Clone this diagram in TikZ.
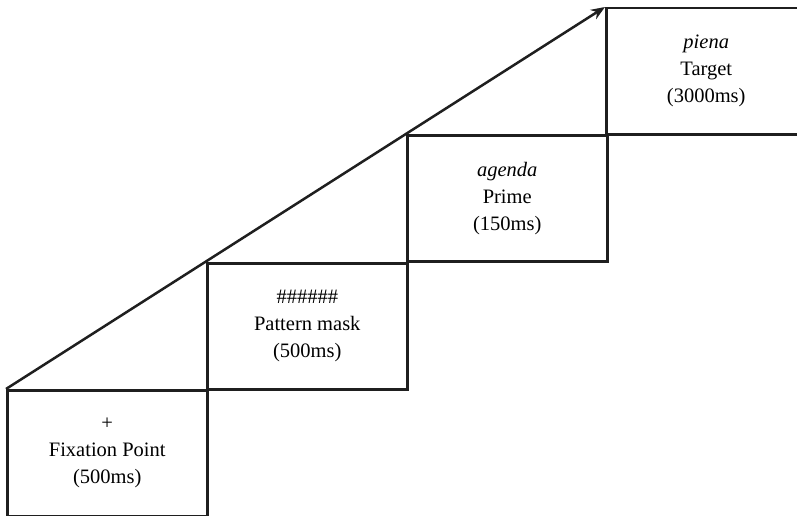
\documentclass[tikz,border=0pt]{standalone}
\usepackage{fontspec}
\setmainfont{Liberation Serif}
\usetikzlibrary{arrows.meta}
\begin{document}
\begin{tikzpicture}[x=1pt,y=-1pt,
  stage/.style={draw=black!88, line width=2.5pt, rectangle, anchor=north west,
    minimum width=200pt, minimum height=126pt, inner sep=0pt,
    align=center, font=\fontsize{20.5}{27}\selectfont},
  flow/.style={draw=black!88, line width=2.5pt, -{Stealth[length=14pt,width=11pt]}}]
  \useasboundingbox (0,0) rectangle (797,516);
  \clip (0,0) rectangle (797,516);
  % four stages climbing to the right
  \node[stage] (fix) at (6,389) {+\\Fixation Point\\(500ms)};
  \node[stage] (mask) at (206,262) {\#\#\#\#\#\#\\Pattern mask\\(500ms)};
  \node[stage] (prime) at (406,134) {\textit{agenda}\\Prime\\(150ms)};
  \node[stage, minimum width=240pt] (target) at (605,7) {\hspace*{-40pt}\textit{piena}\\\hspace*{-40pt}Target\\\hspace*{-40pt}(3000ms)};
  % time arrow along the corners
  \draw[flow] (fix.north west) -- (target.north west);
\end{tikzpicture}
\end{document}
